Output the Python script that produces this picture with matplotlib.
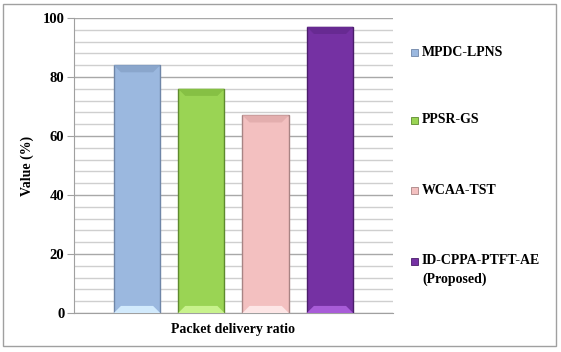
import numpy as np
import matplotlib.pyplot as plt
from matplotlib.patches import Polygon, Rectangle
from matplotlib.ticker import MultipleLocator

# Données
series = ["MPDC-LPNS", "PPSR-GS", "WCAA-TST", "ID-CPPA-PTFT-AE\n(Proposed)"]
values = [84, 76, 67, 97]
category = "Packet delivery ratio"

face_colors = ["#9bb8df", "#9ad454", "#f3c0c0", "#7531a3"]
edge_colors = ["#6f86a8", "#5e8a2e", "#a88484", "#4a1d6a"]
light_colors = ["#d2eafc", "#c8f28c", "#fde6e6", "#a85cd8"]
top_colors = ["#8aa6cc", "#86c044", "#e3aeae", "#672a92"]

plt.rcParams['font.family'] = ['Liberation Serif', 'DejaVu Serif']
plt.rcParams['font.weight'] = 'bold'

fig = plt.figure(figsize=(5.61, 3.52), dpi=100)
ax = fig.add_axes([0.1319, 0.1108, 0.5686, 0.838])

x = np.arange(len(values))
width = 0.72
bars = ax.bar(x, values, width=width, color=face_colors,
              edgecolor=edge_colors, linewidth=1.0, zorder=3)

# effet biseauté en bas et en haut des barres
bx, by = 0.11, 2.4
for b, lc, tc in zip(bars, light_colors, top_colors):
    x0, x1 = b.get_x(), b.get_x() + b.get_width()
    h = b.get_height()
    ax.add_patch(Polygon([(x0, 0), (x1, 0), (x1 - bx, by), (x0 + bx, by)],
                         closed=True, facecolor=lc, edgecolor='none', zorder=4))
    ax.add_patch(Polygon([(x0, h), (x1, h), (x1 - bx, h - by), (x0 + bx, h - by)],
                         closed=True, facecolor=tc, edgecolor='none', zorder=4))

ax.set_xlim(-0.98, 3.98)
ax.set_ylim(0, 100)
ax.yaxis.set_major_locator(MultipleLocator(20))
ax.yaxis.set_minor_locator(MultipleLocator(4))
ax.grid(axis='y', which='minor', color='#cfcfcf', linewidth=1.0, zorder=0)
ax.grid(axis='y', which='major', color='#a8a8a8', linewidth=1.0, zorder=1)

for s in ['top', 'right']:
    ax.spines[s].set_visible(False)
ax.spines['left'].set_color('#a0a0a0')
ax.spines['bottom'].set_color('#a0a0a0')
ax.set_xticks([])
ax.tick_params(axis='y', which='major', length=5, color='#a0a0a0',
               labelsize=10.5, pad=2)
ax.tick_params(axis='y', which='minor', length=0)
for lab in ax.get_yticklabels():
    lab.set_fontweight('bold')

ax.set_ylabel("Value (%)", fontsize=10, fontweight='bold', labelpad=6)
ax.set_xlabel(category, fontsize=10, fontweight='bold', labelpad=7)

# légende à droite
leg_y = [52, 120, 190, 261]
for name, fc, ec, yp in zip(series, face_colors, edge_colors, leg_y):
    fig.patches.append(Rectangle((411 / 561, 1 - (yp + 3.5) / 352), 7 / 561, 7 / 352,
                                 transform=fig.transFigure, facecolor=fc,
                                 edgecolor=ec, linewidth=0.6))
    first, *rest = name.split('\n')
    fig.text(422 / 561, 1 - yp / 352, first, fontsize=10, fontweight='bold',
             va='center', ha='left')
    for k, line in enumerate(rest):
        fig.text(422 / 561, 1 - (yp + 18 * (k + 1)) / 352, line, fontsize=10,
                 fontweight='bold', va='center', ha='left')

# cadre extérieur
fig.patches.append(Rectangle((3 / 561, 1 - 346 / 352), 553 / 561, 342 / 352,
                             transform=fig.transFigure, fill=False,
                             edgecolor='#a0a0a0', linewidth=1.0))

fig.savefig("out.png", dpi=100)
